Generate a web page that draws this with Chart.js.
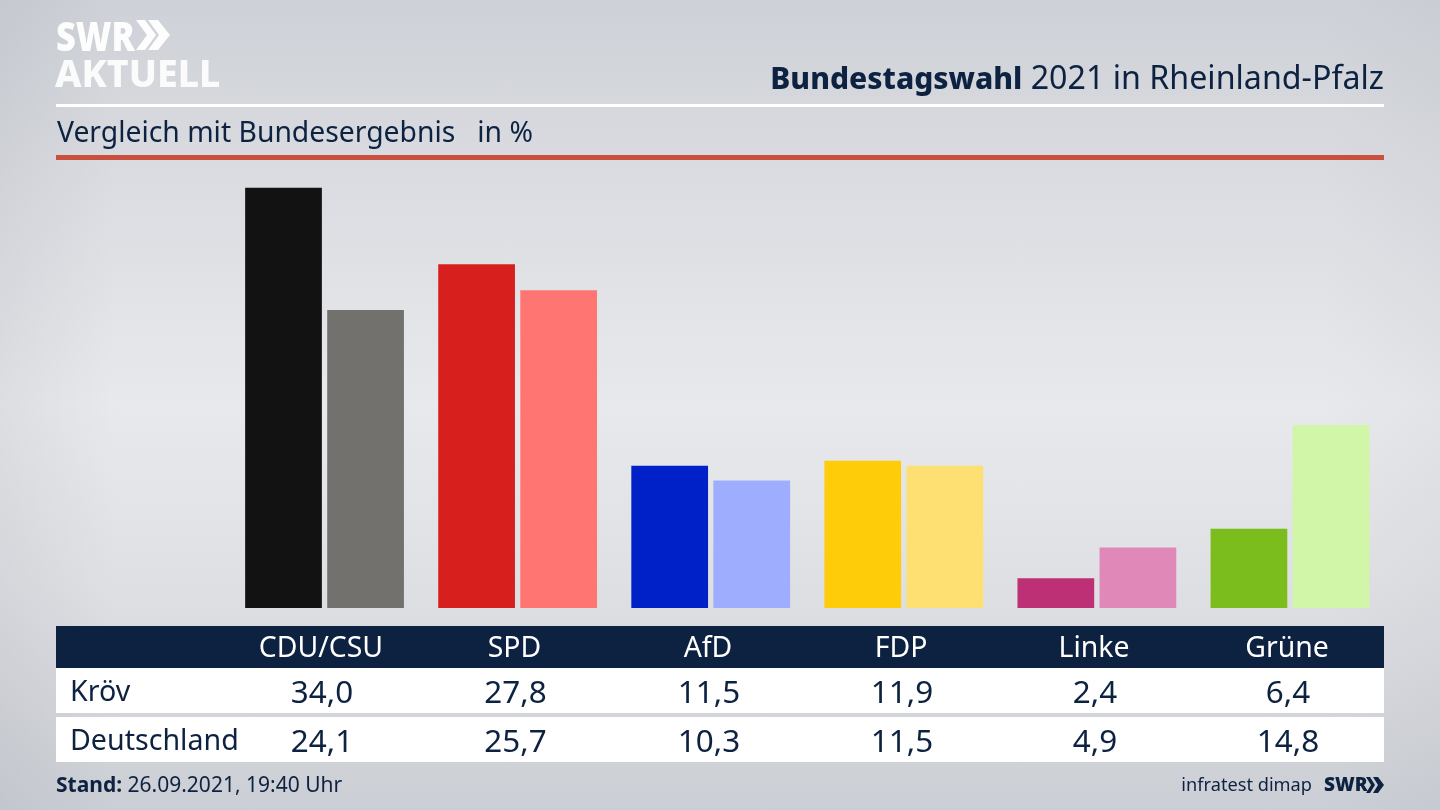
<!DOCTYPE html>
<html lang="de"><head><meta charset="utf-8">
<script src="https://cdn.jsdelivr.net/npm/chart.js@4"></script>
<style>
html,body{margin:0;padding:0;width:1440px;height:810px;overflow:hidden}
body{position:relative;font-family:"Noto Sans",sans-serif;color:#0d2240;
background:linear-gradient(90deg,rgba(120,125,135,.10) 0%,rgba(120,125,135,0) 8%,rgba(120,125,135,0) 92%,rgba(120,125,135,.05) 100%),linear-gradient(180deg,#ced1d7 0%,#dadce1 22%,#e8e9ec 50%,#dfe0e4 72%,#cbced4 100%)}
canvas{position:absolute;left:0;top:0}
.t{position:absolute;white-space:nowrap;line-height:1}
.c{transform:translateX(-50%)}
.box{position:absolute;left:56px;width:1328px}
</style></head><body>
<div class="box" style="top:104px;height:3px;background:#fff"></div>
<div class="box" style="top:155px;height:5px;background:#c9503f"></div>
<div class="box" style="top:626px;height:42px;background:#0d2240"></div>
<div class="box" style="top:668px;height:45px;background:#fff"></div>
<div class="box" style="top:717px;height:45px;background:#fff"></div>
<canvas id="chart" width="1440" height="810"></canvas>
<div id="texts"></div>
<svg style="position:absolute;left:0;top:0" width="1440" height="810">
<path d="M136 20h9l11 15-11 15h-9l11-15zM148 20h10l12 15-12 15h-10l11-15z" fill="#fff" fill-opacity=".95"/>
<path d="M1366 777h4l5 8-5 8h-4l5-8zM1373 777h5l6 8-6 8h-5l5-8z" fill="#0d2240"/>
</svg>
<script>
const categories = ["CDU/CSU","SPD","AfD","FDP","Linke","Grüne"];
const rowLabels = ["Kröv","Deutschland"];
const kroev = [34.0,27.8,11.5,11.9,2.4,6.4];
const deutschland = [24.1,25.7,10.3,11.5,4.9,14.8];
const kroevColors = ["#121212","#d71f1d","#0021c8","#ffcc0a","#bd3075","#7abd1c"];
const deutschlandColors = ["#72716e","#ff7571","#9fadff","#fee072","#e088b7","#d2f6a8"];
const fmt = v => v.toFixed(1).replace(".", ",");

new Chart(document.getElementById("chart"), {
  type:"bar",
  data:{labels:categories,datasets:[
    {label:rowLabels[0],data:kroev,backgroundColor:kroevColors,categoryPercentage:.85,barPercentage:.935},
    {label:rowLabels[1],data:deutschland,backgroundColor:deutschlandColors,categoryPercentage:.85,barPercentage:.935}
  ]},
  options:{responsive:false,animation:false,devicePixelRatio:1,
    layout:{padding:{left:228,right:53.5,top:187.5,bottom:202}},
    plugins:{legend:{display:false},tooltip:{enabled:false},title:{display:false}},
    scales:{x:{display:false},y:{display:false,min:0,max:34}}
  }
});

const host = document.getElementById("texts");
function put(text,style,cls){const s=document.createElement("div");s.className="t "+(cls||"");s.style.cssText=style;s.innerHTML=text;host.appendChild(s);}
const colX=[321,514.5,708,901,1094,1287];
categories.forEach((c,i)=>{
  put(c,`left:${colX[i]}px;top:632px;font-size:28.4px;color:#fff`,"c");
  put(fmt(kroev[i]),`left:${colX[i]+1}px;top:674.5px;font-size:31.4px`,"c");
  put(fmt(deutschland[i]),`left:${colX[i]+1}px;top:723.5px;font-size:31.4px`,"c");
});
put(rowLabels[0],"left:70px;top:676px;font-size:28.6px");
put(rowLabels[1],"left:70px;top:725px;font-size:28.6px");
put('<b style="font-size:30px;font-weight:800">Bundestagswahl</b> 2021 in Rheinland-Pfalz',"right:56px;top:61px;font-size:32.2px");
put("Vergleich mit Bundesergebnis&nbsp;&nbsp; in %","left:57px;top:117px;font-size:28.3px");
put("<b>Stand:</b> 26.09.2021, 19:40 Uhr","left:56px;top:774px;font-size:21px");
put("infratest dimap","right:128px;top:775px;font-size:18.2px");
put('<b style="font-weight:900">SWR</b>',"left:1324px;top:775px;font-size:19px");
put("SWR","left:56px;top:16px;font-size:40px;font-weight:900;color:#fff;opacity:.95;transform-origin:left;transform:scaleX(.86)");
put("AKTUELL","left:55px;top:53px;font-size:38px;font-weight:800;color:#fff;opacity:.9;transform-origin:left;transform:scaleX(.985)");
</script>
</body></html>
